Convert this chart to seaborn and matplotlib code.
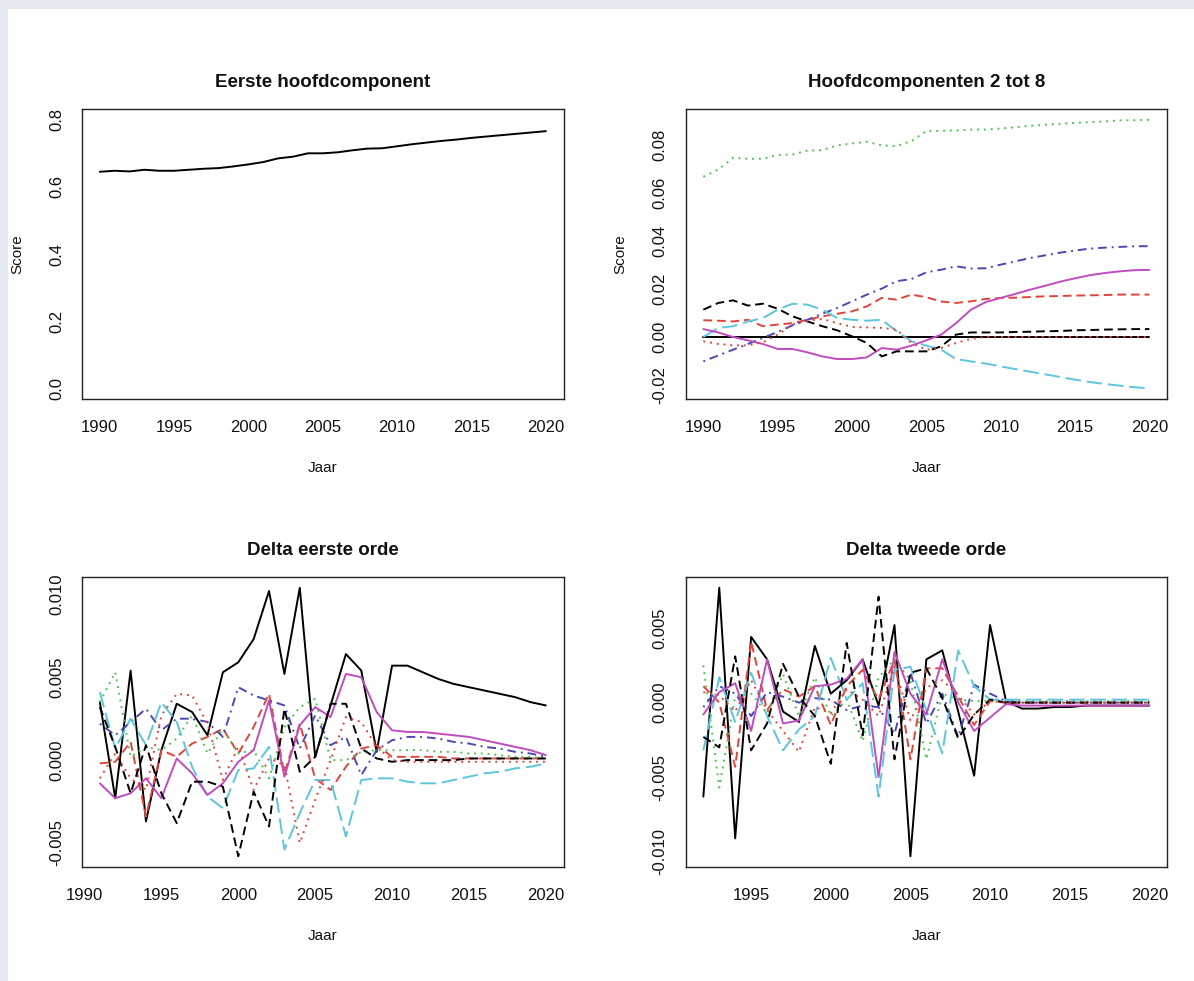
import numpy as np
import pandas as pd
import matplotlib
matplotlib.use("Agg")
import matplotlib.pyplot as plt
from matplotlib.patches import Rectangle
import seaborn as sns

sns.set_theme(style="white")
plt.rcParams["font.family"] = ["Liberation Sans", "DejaVu Sans"]
plt.rcParams["axes.unicode_minus"] = False

# ---------------------------------------------------------------- data
years = list(range(1990, 2021))
years_d1 = years[1:]
years_d2 = years[2:]

components = ["HC1", "HC2", "HC3", "HC4", "HC5", "HC6", "HC7", "HC8"]

# First principal component score per year
first_component = [0.645, 0.648, 0.646, 0.651, 0.648, 0.648, 0.651, 0.654, 0.656, 0.661,
                   0.667, 0.674, 0.685, 0.690, 0.700, 0.700, 0.703, 0.709, 0.714, 0.715,
                   0.721, 0.727, 0.732, 0.737, 0.741, 0.746, 0.750, 0.754, 0.758, 0.762,
                   0.766]

# Components 2..8 (HC1 column held at zero)
pc_hc1 = [0.0] * 31
pc_hc2 = [0.0070, 0.0068, 0.0065, 0.0072, 0.0045, 0.0052, 0.0058, 0.0072, 0.0086, 0.0097,
          0.0107, 0.0128, 0.0163, 0.0156, 0.0177, 0.0166, 0.0148, 0.0142, 0.0149, 0.0159,
          0.0163, 0.0164, 0.0167, 0.0170, 0.0171, 0.0173, 0.0174, 0.0175, 0.0177, 0.0177,
          0.0177]
pc_hc3 = [0.0669, 0.0699, 0.0748, 0.0744, 0.0744, 0.0760, 0.0762, 0.0778, 0.0780, 0.0800,
          0.0808, 0.0815, 0.0800, 0.0797, 0.0818, 0.0860, 0.0861, 0.0862, 0.0866, 0.0866,
          0.0870, 0.0876, 0.0882, 0.0886, 0.0890, 0.0894, 0.0897, 0.0900, 0.0904, 0.0905,
          0.0907]
pc_hc4 = [-0.0102, -0.0077, -0.0053, -0.0029, -0.0004, 0.0021, 0.0049, 0.0072, 0.0097, 0.0121,
          0.0149, 0.0177, 0.0202, 0.0233, 0.0242, 0.0270, 0.0281, 0.0295, 0.0286, 0.0287,
          0.0302, 0.0316, 0.0330, 0.0341, 0.0352, 0.0361, 0.0369, 0.0373, 0.0376, 0.0379,
          0.0379]
pc_hc5 = [0.0000, 0.0038, 0.0045, 0.0065, 0.0079, 0.0114, 0.0139, 0.0135, 0.0114, 0.0079,
          0.0072, 0.0068, 0.0072, 0.0024, -0.0018, -0.0036, -0.0053, -0.0092, -0.0102, -0.0111,
          -0.0123, -0.0134, -0.0145, -0.0156, -0.0167, -0.0178, -0.0188, -0.0196, -0.0203, -0.0210,
          -0.0214]
pc_hc6 = [0.0033, 0.0019, 0.0000, -0.0014, -0.0029, -0.0050, -0.0050, -0.0064, -0.0081, -0.0092,
          -0.0092, -0.0085, -0.0046, -0.0053, -0.0036, -0.0014, 0.0010, 0.0058, 0.0114, 0.0146,
          0.0163, 0.0180, 0.0198, 0.0214, 0.0231, 0.0245, 0.0258, 0.0267, 0.0274, 0.0279,
          0.0280]
pc_hc7 = [0.0114, 0.0142, 0.0153, 0.0131, 0.0139, 0.0118, 0.0086, 0.0065, 0.0045, 0.0028,
          0.0003, -0.0025, -0.0081, -0.0060, -0.0060, -0.0060, -0.0039, 0.0010, 0.0019, 0.0019,
          0.0019, 0.0021, 0.0022, 0.0024, 0.0025, 0.0028, 0.0029, 0.0031, 0.0032, 0.0033,
          0.0033]
pc_hc8 = [-0.0018, -0.0029, -0.0035, -0.0035, -0.0022, 0.0010, 0.0052, 0.0068, 0.0075, 0.0058,
          0.0042, 0.0040, 0.0038, 0.0031, -0.0025, -0.0053, -0.0046, -0.0025, -0.0008, 0.0000,
          0.0000, 0.0000, 0.0000, 0.0000, 0.0000, 0.0000, 0.0000, 0.0000, 0.0000, 0.0000,
          0.0000]

# First-order deltas, 1991..2020
d1_hc1 = [0.0035, -0.0023, 0.0054, -0.0037, 0.0006, 0.0034, 0.0029, 0.0015, 0.0053, 0.0059,
          0.0073, 0.0102, 0.0052, 0.0104, 0.0002, 0.0033, 0.0064, 0.0054, 0.0005, 0.0057,
          0.0057, 0.0053, 0.0049, 0.0046, 0.0044, 0.0042, 0.0040, 0.0038, 0.0035, 0.0033]
d1_hc2 = [-0.0002, -0.0001, 0.0011, -0.0034, 0.0006, 0.0002, 0.0010, 0.0014, 0.0019, 0.0004,
          0.0020, 0.0040, -0.0008, 0.0022, -0.0011, -0.0018, -0.0004, 0.0007, 0.0009, 0.0002,
          0.0002, 0.0002, 0.0002, 0.0001, 0.0001, 0.0001, 0.0001, 0.0001, 0.0001, 0.0001]
d1_hc3 = [0.0035, 0.0053, 0.0002, 0.0008, 0.0006, 0.0013, 0.0027, 0.0004, 0.0019, 0.0004,
          0.0006, -0.0011, 0.0020, 0.0032, 0.0037, 0.0000, 0.0000, 0.0005, 0.0006, 0.0006,
          0.0006, 0.0006, 0.0005, 0.0005, 0.0004, 0.0004, 0.0003, 0.0002, 0.0002, 0.0001]
d1_hc4 = [0.0022, 0.0015, 0.0023, 0.0031, 0.0018, 0.0025, 0.0025, 0.0023, 0.0014, 0.0044,
          0.0039, 0.0036, 0.0033, 0.0007, 0.0027, 0.0009, 0.0014, -0.0009, 0.0006, 0.0012,
          0.0014, 0.0014, 0.0013, 0.0011, 0.0010, 0.0008, 0.0007, 0.0005, 0.0004, 0.0002]
d1_hc5 = [0.0041, 0.0007, 0.0025, 0.0009, 0.0035, 0.0023, -0.0004, -0.0022, -0.0029, -0.0006,
          -0.0005, 0.0008, -0.0054, -0.0032, -0.0012, -0.0012, -0.0046, -0.0012, -0.0011, -0.0011,
          -0.0013, -0.0014, -0.0014, -0.0012, -0.0010, -0.0008, -0.0007, -0.0005, -0.0004, -0.0002]
d1_hc6 = [-0.0014, -0.0023, -0.0020, -0.0011, -0.0023, 0.0001, -0.0008, -0.0021, -0.0014, -0.0001,
          0.0006, 0.0036, -0.0010, 0.0021, 0.0032, 0.0026, 0.0052, 0.0050, 0.0029, 0.0018,
          0.0017, 0.0017, 0.0016, 0.0015, 0.0014, 0.0012, 0.0010, 0.0008, 0.0006, 0.0003]
d1_hc7 = [0.0032, 0.0008, -0.0020, 0.0009, -0.0020, -0.0038, -0.0013, -0.0013, -0.0016, -0.0058,
          -0.0019, -0.0040, 0.0031, -0.0007, 0.0002, 0.0034, 0.0034, 0.0007, 0.0001, -0.0001,
          0.0000, 0.0000, 0.0000, 0.0000, 0.0001, 0.0001, 0.0001, 0.0001, 0.0001, 0.0001]
d1_hc8 = [-0.0011, 0.0004, -0.0011, -0.0018, 0.0027, 0.0040, 0.0039, 0.0022, -0.0012, 0.0008,
          -0.0018, 0.0001, -0.0003, -0.0050, -0.0024, 0.0000, 0.0026, 0.0023, 0.0008, 0.0000,
          -0.0001, -0.0001, -0.0001, -0.0001, -0.0001, -0.0001, -0.0001, -0.0001, -0.0001, -0.0001]

# Second-order deltas, 1992..2020
d2_hc1 = [-0.0063, 0.0077, -0.0091, 0.0044, 0.0029, -0.0006, -0.0013, 0.0038, 0.0006, 0.0015,
          0.0029, -0.0002, 0.0052, -0.0103, 0.0029, 0.0035, -0.0006, -0.0049, 0.0052, 0.0001,
          -0.0004, -0.0004, -0.0003, -0.0003, -0.0002, -0.0002, -0.0002, -0.0002, -0.0002]
d2_hc2 = [0.0011, 0.0000, -0.0043, 0.0041, -0.0005, 0.0009, 0.0004, 0.0011, -0.0015, 0.0011,
          0.0022, 0.0002, 0.0029, -0.0038, 0.0023, 0.0023, 0.0004, -0.0015, 0.0001, 0.0000,
          0.0000, 0.0000, 0.0000, 0.0000, 0.0000, 0.0000, 0.0000, 0.0000, 0.0000]
d2_hc3 = [0.0025, -0.0057, 0.0004, 0.0006, -0.0007, 0.0019, -0.0009, 0.0017, -0.0009, 0.0002,
          -0.0026, 0.0017, 0.0029, 0.0015, -0.0038, 0.0006, 0.0002, 0.0001, 0.0001, 0.0001,
          0.0001, 0.0001, 0.0001, 0.0001, 0.0001, 0.0001, 0.0001, 0.0001, 0.0001]
d2_hc4 = [-0.0003, 0.0011, 0.0006, -0.0009, 0.0007, 0.0004, 0.0000, 0.0003, 0.0002, -0.0005,
          -0.0002, -0.0003, -0.0021, 0.0020, -0.0014, 0.0006, -0.0023, 0.0012, 0.0006, 0.0001,
          0.0000, 0.0000, 0.0000, 0.0000, 0.0000, 0.0000, 0.0000, 0.0000, 0.0000]
d2_hc5 = [-0.0032, 0.0017, -0.0013, 0.0020, -0.0009, -0.0032, -0.0018, -0.0009, 0.0030, 0.0002,
          0.0013, -0.0063, 0.0022, 0.0024, -0.0005, -0.0034, 0.0035, 0.0011, 0.0002, 0.0002,
          0.0002, 0.0002, 0.0002, 0.0002, 0.0002, 0.0002, 0.0002, 0.0002, 0.0002]
d2_hc6 = [-0.0008, 0.0007, 0.0013, -0.0019, 0.0029, -0.0014, -0.0012, 0.0011, 0.0012, 0.0016,
          0.0029, -0.0050, 0.0034, 0.0006, -0.0008, 0.0029, 0.0000, -0.0019, -0.0010, -0.0001,
          -0.0002, -0.0002, -0.0002, -0.0002, -0.0002, -0.0002, -0.0002, -0.0002, -0.0002]
d2_hc7 = [-0.0023, -0.0030, 0.0031, -0.0032, -0.0014, 0.0026, 0.0004, -0.0009, -0.0041, 0.0040,
          -0.0022, 0.0071, -0.0038, 0.0020, 0.0023, 0.0003, -0.0024, -0.0008, 0.0002, 0.0000,
          0.0000, 0.0000, 0.0000, 0.0000, 0.0000, 0.0000, 0.0000, 0.0000, 0.0000]
d2_hc8 = [0.0007, 0.0005, -0.0006, 0.0015, -0.0005, -0.0019, -0.0033, -0.0003, -0.0007, 0.0009,
          0.0002, -0.0009, 0.0024, -0.0012, 0.0010, 0.0015, 0.0005, -0.0008, 0.0001, 0.0000,
          0.0000, 0.0000, 0.0000, 0.0000, 0.0000, 0.0000, 0.0000, 0.0000, 0.0000]

# ---------------------------------------------------------------- styling
palette = {"HC1": "#000000", "HC2": "#e0453c", "HC3": "#52c452", "HC4": "#4b47b4",
           "HC5": "#5cc6dc", "HC6": "#c04cc0", "HC7": "#000000", "HC8": "#e0453c"}
dash_map = {"HC1": "", "HC2": (4.5, 2.5), "HC3": (1, 2.5), "HC4": (1, 2.5, 4.5, 2.5),
            "HC5": (8, 3), "HC6": "", "HC7": (4.5, 2.5), "HC8": (1, 2.5)}
LW = 1.4
W, H = 1194, 981


def long_frame(x, series, names):
    return pd.DataFrame({
        "Jaar": np.tile(x, len(series)),
        "Score": np.concatenate([np.asarray(s, float) for s in series]),
        "Component": np.repeat(names, len(x)),
    })


def style_axes(ax, title, xticks, yticks, ylabels, xlim, ylim, ylabel):
    ax.set_xlim(*xlim)
    ax.set_ylim(*ylim)
    ax.set_xticks(xticks)
    ax.set_xticklabels([str(t) for t in xticks])
    ax.set_yticks(yticks)
    ax.set_yticklabels(ylabels)
    for s in ax.spines.values():
        s.set_visible(True)
        s.set_color("#222222")
        s.set_linewidth(1.0)
    ax.tick_params(axis="both", direction="out", length=8, width=1.0,
                   color="#222222", labelsize=12, labelcolor="#111111")
    ax.tick_params(axis="x", pad=7)
    ax.tick_params(axis="y", pad=5, labelrotation=90)
    for lab in ax.get_yticklabels():
        lab.set_va("center")
    ax.set_title(title, fontsize=13.5, fontweight="bold", pad=16, color="#111111")
    ax.set_xlabel("Jaar", fontsize=11, va="center", color="#111111")
    ax.xaxis.set_label_coords(0.5, -0.238)
    if ylabel:
        ax.set_ylabel(ylabel, fontsize=11, va="center", color="#111111")
        ax.yaxis.set_label_coords(-0.135, 0.5)
    else:
        ax.set_ylabel("")
    ax.set_facecolor("white")


def padded(lo, hi, frac=0.04):
    r = hi - lo
    return (lo - frac * r, hi + frac * r)


fig = plt.figure(figsize=(W / 100, H / 100), dpi=100)
fig.patch.set_facecolor("#e3e7ef")
fig.add_artist(Rectangle((8 / W, 0), 1, (H - 9) / H, transform=fig.transFigure,
                         facecolor="white", edgecolor="none", zorder=-10))

ax_w, ax_h = 481.7 / W, 290 / H
ax_tl = fig.add_axes([82 / W, (H - 399) / H, ax_w, ax_h])
ax_tr = fig.add_axes([685.5 / W, (H - 399) / H, ax_w, ax_h])
ax_bl = fig.add_axes([82 / W, (H - 867) / H, ax_w, ax_h])
ax_br = fig.add_axes([685.5 / W, (H - 867) / H, ax_w, ax_h])

# Top left: first principal component
df_first = pd.DataFrame({"Jaar": years, "Score": first_component})
sns.lineplot(data=df_first, x="Jaar", y="Score", color="black", linewidth=LW,
             estimator=None, ax=ax_tl)
style_axes(ax_tl, "Eerste hoofdcomponent", list(range(1990, 2021, 5)),
           [0.0, 0.2, 0.4, 0.6, 0.8], ["0.0", "0.2", "0.4", "0.6", "0.8"],
           padded(1990, 2020), padded(0.0, 0.8), "Score")


def multi_panel(ax, x, series, title, xticks, yticks, ylabels, ylabel):
    df = long_frame(x, series, components)
    sns.lineplot(data=df, x="Jaar", y="Score", hue="Component", style="Component",
                 hue_order=components, style_order=components, palette=palette,
                 dashes=dash_map, linewidth=LW, estimator=None, legend=False, ax=ax)
    allv = np.concatenate([np.asarray(s, float) for s in series])
    style_axes(ax, title, xticks, yticks, ylabels,
               padded(min(x), max(x)), padded(allv.min(), allv.max()), ylabel)


multi_panel(ax_tr, years,
            [pc_hc1, pc_hc2, pc_hc3, pc_hc4, pc_hc5, pc_hc6, pc_hc7, pc_hc8],
            "Hoofdcomponenten 2 tot 8", list(range(1990, 2021, 5)),
            [-0.02, 0.0, 0.02, 0.04, 0.06, 0.08],
            ["-0.02", "0.00", "0.02", "0.04", "0.06", "0.08"], "Score")

multi_panel(ax_bl, years_d1,
            [d1_hc1, d1_hc2, d1_hc3, d1_hc4, d1_hc5, d1_hc6, d1_hc7, d1_hc8],
            "Delta eerste orde", list(range(1990, 2021, 5)),
            [-0.005, 0.0, 0.005, 0.010],
            ["-0.005", "0.000", "0.005", "0.010"], None)

multi_panel(ax_br, years_d2,
            [d2_hc1, d2_hc2, d2_hc3, d2_hc4, d2_hc5, d2_hc6, d2_hc7, d2_hc8],
            "Delta tweede orde", list(range(1995, 2021, 5)),
            [-0.010, -0.005, 0.0, 0.005],
            ["-0.010", "-0.005", "0.000", "0.005"], None)

fig.savefig("out.png", dpi=100, facecolor=fig.get_facecolor())
